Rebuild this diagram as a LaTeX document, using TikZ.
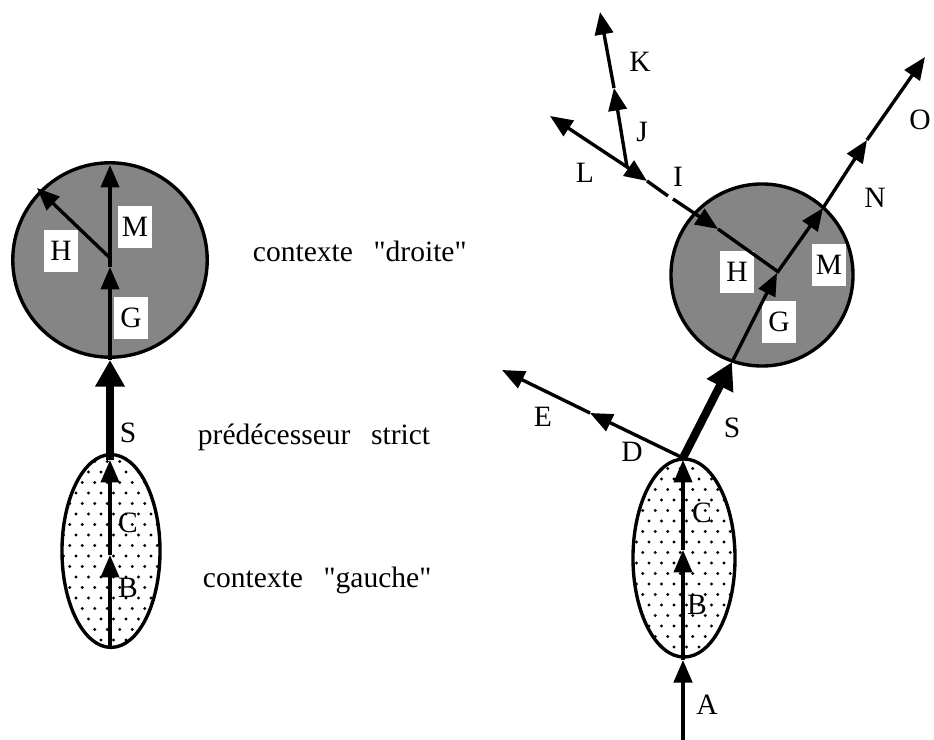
\documentclass[tikz,border=0pt]{standalone}
\usepackage{fontspec}
\setmainfont{Liberation Serif}
\usetikzlibrary{arrows.meta}

\begin{document}
\begin{tikzpicture}[x=0.025cm, y=-0.025cm,
    every node/.style={font=\fontsize{21}{25}\selectfont},
    seg/.style={line width=2.4pt, -{Triangle[length=16pt, width=13pt]}},
    bare/.style={line width=2.4pt},
    strict/.style={line width=5.8pt, -{Triangle[length=19pt, width=20pt]}},
    letterbox/.style={fill=white, minimum width=0.85cm, minimum height=1.05cm, inner sep=0pt}]
  \useasboundingbox (0,0) rectangle (934,740);

  \fill[black!48] (110,260) circle [radius=2.43cm];
  \draw[line width=2.4pt] (110,260) circle [radius=2.43cm];
  \fill[black!48] (762,275) circle [radius=2.275cm];
  \draw[line width=2.4pt] (762,275) circle [radius=2.275cm];

  \foreach \cx/\cy/\rx/\ry in {111/551/1.225/2.41, 684/558/1.275/2.475} {
    \begin{scope}
      \clip (\cx,\cy) ellipse [x radius=\rx cm, y radius=\ry cm];
      \foreach \j in {0,...,19}
        \foreach \i in {0,...,9}
          \fill ({\cx-60+12.5*\i+6.25*mod(\j,2)}, {\cy-100+10.5*\j}) circle [radius=1.1pt];
    \end{scope}
    \draw[line width=2.4pt] (\cx,\cy) ellipse [x radius=\rx cm, y radius=\ry cm];
  }

  \node[letterbox] (mboxl) at (135,227) {M};
  \node[letterbox] (hboxl) at (61,251) {H};
  \node[letterbox] (gboxl) at (131,318) {G};
  \node[letterbox] (hboxr) at (737,272) {H};
  \node[letterbox] (mboxr) at (829,265) {M};
  \node[letterbox] (gboxr) at (779,322) {G};

  \coordinate (lbot) at (110,648);
  \coordinate (lb) at (110,555);
  \coordinate (lc) at (110,460);
  \coordinate (ls) at (110,360);
  \coordinate (lg) at (110,267);
  \coordinate (lfork) at (110,258);
  \coordinate (lm) at (110,165);
  \coordinate (lh) at (37,188);
  \draw[seg] (lbot) -- (lb);
  \draw[seg] (lb) -- (lc);
  \draw[strict] (lc) -- (ls);
  \draw[seg] (ls) -- (lg);
  \draw[seg] (lg) -- (lm);
  \draw[seg] (lfork) -- (lh);

  \coordinate (rbot) at (683,740);
  \coordinate (ra) at (683,660);
  \coordinate (rb) at (683,550);
  \coordinate (rc) at (683,460);
  \coordinate (rd) at (683,458);
  \coordinate (re1) at (590,413);
  \coordinate (re2) at (502,370);
  \coordinate (rs) at (732,362);
  \coordinate (rg) at (777,273);
  \coordinate (rfork) at (777,271);
  \coordinate (rn1) at (823,208);
  \coordinate (rn2) at (867,140);
  \coordinate (ro) at (925,57);
  \coordinate (rl) at (627,167);
  \coordinate (ri1) at (647,181);
  \coordinate (gapa) at (668,196);
  \coordinate (gapb) at (673,199);
  \coordinate (ri2) at (718,229);
  \coordinate (rltip) at (550,116);
  \coordinate (rj) at (614,88);
  \coordinate (rk) at (600,12);
  \draw[seg] (rbot) -- (ra);
  \draw[seg] (ra) -- (rb);
  \draw[seg] (rb) -- (rc);
  \draw[seg] (rd) -- (re1);
  \draw[seg] (re1) -- (re2);
  \draw[strict] (rd) -- (rs);
  \draw[seg] (rs) -- (rg);
  \draw[seg] (rg) -- (rn1);
  \draw[seg] (rn1) -- (rn2);
  \draw[seg] (rn2) -- (ro);
  \draw[seg] (rl) -- (ri1);
  \draw[bare] (ri1) -- (gapa);
  \draw[seg] (gapb) -- (ri2);
  \draw[bare] (ri2) -- (rfork);
  \draw[seg] (rl) -- (rltip);
  \draw[seg] (rl) -- (rj);
  \draw[seg] (rj) -- (rk);

  \node (sl) at (128,433) {S};
  \node (cl) at (128,523) {C};
  \node (bl) at (128,588) {B};
  \node (droite) [anchor=base west] at (248,262) {contexte\hspace{0.7em}\textquotedbl droite\textquotedbl};
  \node (strictlbl) [anchor=base west] at (193,445) {prédécesseur\hspace{0.7em}strict};
  \node (gauche) [anchor=base west] at (198,588) {contexte\hspace{0.7em}\textquotedbl gauche\textquotedbl};

  \node (al) at (707,705) {A};
  \node (br) at (697,605) {B};
  \node (cr) at (702,513) {C};
  \node (dl) at (632,452) {D};
  \node (el) at (543,417) {E};
  \node (sr) at (732,428) {S};
  \node (il) at (678,177) {I};
  \node (ll) at (585,173) {L};
  \node (jl) at (642,132) {J};
  \node (kl) at (640,62) {K};
  \node (nl) at (875,198) {N};
  \node (ol) at (920,120) {O};
\end{tikzpicture}
\end{document}
